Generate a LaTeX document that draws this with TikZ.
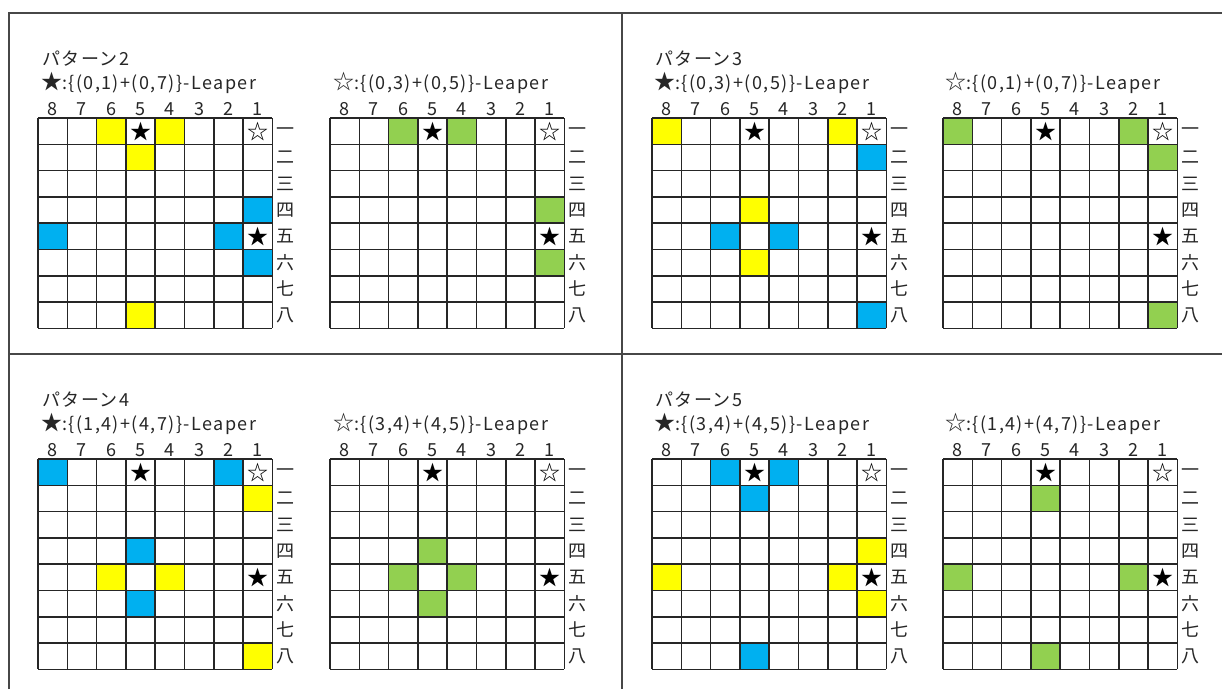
\documentclass[tikz,border=0pt]{standalone}
\usepackage{fontspec}
\setmainfont{Noto Sans CJK JP}
\newfontfamily\leaperfont[LetterSpace=8]{Noto Sans CJK JP}

\definecolor{shogiyellow}{RGB}{255,255,0}
\definecolor{shogiblue}{RGB}{0,176,240}
\definecolor{shogigreen}{RGB}{146,208,80}

% size of one square (px)
\newcommand{\sqw}{29.3}
\newcommand{\sqh}{26.3}

% bigger star in the titles
\newcommand{\bstar}{{\fontsize{21}{20}\selectfont ★}}
\newcommand{\wstar}{{\fontsize{21}{20}\selectfont ☆}}

% colour one square: left, top, file, rank, colour
\newcommand{\sqfill}[5]{%
  \fill[#5] ({#1+(8-#3)*\sqw},{#2+(#4-1)*\sqh}) rectangle ++(\sqw,\sqh);}

% 8x8 board with numbers and the three pieces: name, left, top
\newcommand{\shogiboard}[3]{%
  \foreach \i in {0,...,8} {
    \draw[gridline] ({#2+\i*\sqw},#3) -- ({#2+\i*\sqw},{#3+8*\sqh});
    \draw[gridline] (#2,{#3+\i*\sqh}) -- ({#2+8*\sqw},{#3+\i*\sqh});
  }
  \foreach \f in {1,...,8}
    \node[filenum] (#1-f\f) at ({#2+(8.5-\f)*\sqw},{#3-3}) {\f};
  \foreach \rk/\kan in {1/一,2/二,3/三,4/四,5/五,6/六,7/七,8/八}
    \node[ranknum] (#1-r\rk) at ({#2+8*\sqw+13},{#3+(\rk-0.5)*\sqh}) {\kan};
  \node[piece] (#1-black) at ({#2+3.5*\sqw},{#3+0.5*\sqh}) {★};
  \node[piece] (#1-white) at ({#2+7.5*\sqw},{#3+0.5*\sqh}) {☆};
  \node[piece] (#1-leaper) at ({#2+7.5*\sqw},{#3+4.5*\sqh}) {★};
}

\tikzset{
  gridline/.style={draw=black!85, line width=1.5pt},
  frameline/.style={draw=black!72, line width=2pt},
  filenum/.style={anchor=base, inner sep=0pt, font=\fontsize{18}{20}\selectfont, text=black!85},
  ranknum/.style={anchor=center, inner sep=0pt, font=\fontsize{18}{20}\selectfont, text=black!85},
  piece/.style={anchor=center, inner sep=0pt, font=\fontsize{21}{22}\selectfont},
  pattitle/.style={anchor=base west, inner sep=0pt, font=\leaperfont\fontsize{18}{20}\selectfont, text=black!85},
}

\begin{document}
\begin{tikzpicture}[x=1pt, y=-1pt]
    \fill[white] (0,0) rectangle (1222,689);
    \useasboundingbox (0,0) rectangle (1222,689);

    % table lines
    \draw[frameline] (9,689) -- (9,13) -- (1222,13);
    \draw[frameline] (9,354) -- (1222,354);
    \draw[frameline] (622,13) -- (622,689);

    % パターン2
    \node[pattitle] (p2-name) at (42,65) {パターン2};
    \node[pattitle] (p2a-rule) at (41,89) {\bstar:\{(0,1)+(0,7)\}-Leaper};
    \node[pattitle] (p2b-rule) at (333,89) {\wstar:\{(0,3)+(0,5)\}-Leaper};
    \foreach \f/\rk in {6/1,4/1,5/2,5/8} {\sqfill{38}{118}{\f}{\rk}{shogiyellow}}
    \foreach \f/\rk in {1/4,1/6,2/5,8/5} {\sqfill{38}{118}{\f}{\rk}{shogiblue}}
    \foreach \f/\rk in {6/1,4/1,1/4,1/6} {\sqfill{330}{118}{\f}{\rk}{shogigreen}}
    \shogiboard{p2a}{38}{118}
    \shogiboard{p2b}{330}{118}

    % パターン3
    \node[pattitle] (p3-name) at (655,65) {パターン3};
    \node[pattitle] (p3a-rule) at (654,89) {\bstar:\{(0,3)+(0,5)\}-Leaper};
    \node[pattitle] (p3b-rule) at (945,89) {\wstar:\{(0,1)+(0,7)\}-Leaper};
    \foreach \f/\rk in {8/1,2/1,5/4,5/6} {\sqfill{652}{118}{\f}{\rk}{shogiyellow}}
    \foreach \f/\rk in {1/2,1/8,6/5,4/5} {\sqfill{652}{118}{\f}{\rk}{shogiblue}}
    \foreach \f/\rk in {8/1,2/1,1/2,1/8} {\sqfill{943}{118}{\f}{\rk}{shogigreen}}
    \shogiboard{p3a}{652}{118}
    \shogiboard{p3b}{943}{118}

    % パターン4
    \node[pattitle] (p4-name) at (42,406) {パターン4};
    \node[pattitle] (p4a-rule) at (41,430) {\bstar:\{(1,4)+(4,7)\}-Leaper};
    \node[pattitle] (p4b-rule) at (333,430) {\wstar:\{(3,4)+(4,5)\}-Leaper};
    \foreach \f/\rk in {8/1,2/1,5/4,5/6} {\sqfill{38}{459}{\f}{\rk}{shogiblue}}
    \foreach \f/\rk in {1/2,1/8,6/5,4/5} {\sqfill{38}{459}{\f}{\rk}{shogiyellow}}
    \foreach \f/\rk in {5/4,6/5,4/5,5/6} {\sqfill{330}{459}{\f}{\rk}{shogigreen}}
    \shogiboard{p4a}{38}{459}
    \shogiboard{p4b}{330}{459}

    % パターン5
    \node[pattitle] (p5-name) at (655,406) {パターン5};
    \node[pattitle] (p5a-rule) at (654,430) {\bstar:\{(3,4)+(4,5)\}-Leaper};
    \node[pattitle] (p5b-rule) at (945,430) {\wstar:\{(1,4)+(4,7)\}-Leaper};
    \foreach \f/\rk in {6/1,4/1,5/2,5/8} {\sqfill{652}{459}{\f}{\rk}{shogiblue}}
    \foreach \f/\rk in {1/4,1/6,2/5,8/5} {\sqfill{652}{459}{\f}{\rk}{shogiyellow}}
    \foreach \f/\rk in {5/2,5/8,8/5,2/5} {\sqfill{943}{459}{\f}{\rk}{shogigreen}}
    \shogiboard{p5a}{652}{459}
    \shogiboard{p5b}{943}{459}
\end{tikzpicture}
\end{document}
